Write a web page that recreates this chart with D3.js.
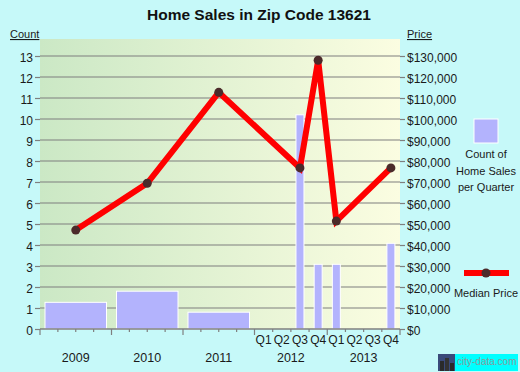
<!DOCTYPE html>
<html><head><meta charset="utf-8">
<script src="https://cdn.jsdelivr.net/npm/d3@7"></script>
<style>html,body{margin:0;padding:0;background:#c6f9f9;}svg{display:block;}</style>
</head><body><div id="chart"></div>
<script>
// ---- data ----
const yearLabels = ["2009", "2010", "2011"];
const yearCounts = [1.27, 1.8, 0.8];
const yearPrices = [47100, 69400, 112700];
const quarterLabels = ["Q1", "Q2", "Q3", "Q4", "Q1", "Q2", "Q3", "Q4"];
const quarterYears = ["2012", "2012", "2012", "2012", "2013", "2013", "2013", "2013"];
const quarterCounts = [0, 0, 10.2, 3.08, 3.08, 0, 0, 4.08];
const quarterPrices = [null, null, 76700, 128000, 51400, null, null, 76700];
const countTicks = [0,1,2,3,4,5,6,7,8,9,10,11,12,13];
const priceTicks = [0,10000,20000,30000,40000,50000,60000,70000,80000,90000,100000,110000,120000,130000];
const quarterYearLabels = ["2012", "2013"];

const W = 520, H = 372;
const L = 40, R = 400, T = 39, B = 329;
const svg = d3.select("#chart").append("svg").attr("width", W).attr("height", H);

const defs = svg.append("defs");
const grad = defs.append("linearGradient").attr("id", "bg").attr("x1", 0).attr("x2", 1).attr("y1", 0).attr("y2", 0);
grad.append("stop").attr("offset", "0%").attr("stop-color", "#cbe8c5");
grad.append("stop").attr("offset", "100%").attr("stop-color", "#fbfde1");

// piecewise scale: years 0..3 occupy first part, quarters (in years) 3..5 the rest
const x = d3.scaleLinear().domain([0, 3, 5]).range([L, 254.5, R]);
const yC = d3.scaleLinear().domain([0, 13]).range([B, B - 13 * 21]);
const yP = d3.scaleLinear().domain([0, 130000]).range([B, B - 13 * 21]);

svg.append("rect").attr("x", L).attr("y", T).attr("width", R - L).attr("height", B - T).attr("fill", "url(#bg)");

// gridlines
svg.append("g").selectAll("line").data(countTicks.filter(d => d > 0)).join("line")
  .attr("x1", L).attr("x2", R).attr("y1", d => yC(d)).attr("y2", d => yC(d))
  .attr("stroke", "#7f7f7f").attr("stroke-width", 1.2);

// bars
const yearData = yearLabels.map((y, i) => ({i, count: yearCounts[i], price: yearPrices[i]}));
const qData = quarterLabels.map((q, i) => ({i, count: quarterCounts[i], price: quarterPrices[i]}));
const barFill = "#b3b3fd";
svg.append("g").selectAll("rect").data(yearData).join("rect")
  .attr("x", d => x(d.i) + 5).attr("width", d => x(d.i + 1) - x(d.i) - 10)
  .attr("y", d => yC(d.count)).attr("height", d => B - yC(d.count))
  .attr("fill", barFill).attr("stroke", "#fff").attr("stroke-width", 1);
svg.append("g").selectAll("rect").data(qData.filter(d => d.count > 0)).join("rect")
  .attr("x", d => x(3 + (d.i + 0.5) / 4) - 4).attr("width", 8)
  .attr("y", d => yC(d.count)).attr("height", d => B - yC(d.count))
  .attr("fill", barFill).attr("stroke", "#fff").attr("stroke-width", 1);

// line
const pts = yearData.map(d => ({x: x(d.i + 0.5), y: yP(d.price)}))
  .concat(qData.filter(d => d.price != null).map(d => ({x: x(3 + (d.i + 0.5) / 4), y: yP(d.price)})));
svg.append("path").datum(pts)
  .attr("d", d3.line().x(d => d.x).y(d => d.y))
  .attr("fill", "none").attr("stroke", "#ff0000").attr("stroke-width", 6).attr("stroke-linejoin", "miter");
svg.append("g").selectAll("circle").data(pts).join("circle")
  .attr("cx", d => d.x).attr("cy", d => d.y).attr("r", 4.5).attr("fill", "#4b2a2a");

// axes
const font = "'Liberation Sans', Arial, sans-serif";
const txtColor = "#1a1a1a";
const leftAxis = d3.axisLeft(yC).tickValues(countTicks).tickSize(5).tickPadding(2).tickFormat(d3.format("d"));
const gL = svg.append("g").attr("transform", `translate(${L},0)`).call(leftAxis);
const rightAxis = d3.axisRight(yP).tickValues(priceTicks).tickSize(5).tickPadding(2).tickFormat(d => "$" + d3.format(",")(d));
const gR = svg.append("g").attr("transform", `translate(${R},0)`).call(rightAxis);
[gL, gR].forEach(g => {
  g.select(".domain").remove();
  g.selectAll(".tick line").attr("stroke", "#7f7f7f").attr("stroke-width", 1.2);
  g.selectAll("text").attr("font-family", font).attr("font-size", 12).attr("fill", txtColor).attr("dy", "0.45em");
});

// bottom axis
const gB = svg.append("g");
gB.append("line").attr("x1", L).attr("x2", R).attr("y1", B).attr("y2", B).attr("stroke", "#7f7f7f").attr("stroke-width", 1.5);
const majorTicks = [0, 1, 2, 3, 4, 5];
const minorTicks = [];
for (let yi = 0; yi < 3; yi++) for (let q = 1; q < 4; q++) minorTicks.push(yi + q / 4);
for (let q = 1; q < 8; q++) if (q !== 4) minorTicks.push(3 + q / 4);
gB.selectAll("line.maj").data(majorTicks).join("line").attr("class", "maj")
  .attr("x1", d => x(d)).attr("x2", d => x(d)).attr("y1", B).attr("y2", B + 6).attr("stroke", "#7f7f7f").attr("stroke-width", 1.2);
gB.selectAll("line.min").data(minorTicks).join("line").attr("class", "min")
  .attr("x1", d => x(d)).attr("x2", d => x(d)).attr("y1", B).attr("y2", B + 3).attr("stroke", "#7f7f7f").attr("stroke-width", 1.2);
gB.selectAll("text.q").data(quarterLabels).join("text").attr("class", "q")
  .attr("x", (d, i) => x(3 + (i + 0.5) / 4)).attr("y", 344).attr("text-anchor", "middle")
  .attr("font-family", font).attr("font-size", 12).attr("fill", txtColor).text(d => d);
const yearTextData = yearLabels.map((d, i) => ({t: d, c: i + 0.5})).concat(quarterYearLabels.map((d, i) => ({t: d, c: 3 + i + 0.5})));
gB.selectAll("text.y").data(yearTextData).join("text").attr("class", "y")
  .attr("x", d => x(d.c)).attr("y", 362).attr("text-anchor", "middle")
  .attr("font-family", font).attr("font-size", 12.5).attr("fill", txtColor).text(d => d.t);

// title
svg.append("text").attr("x", 259).attr("y", 20).attr("text-anchor", "middle")
  .attr("font-family", font).attr("font-weight", "bold").attr("font-size", 15.5).attr("fill", "#111")
  .text("Home Sales in Zip Code 13621");

// axis titles
svg.append("text").attr("x", 10).attr("y", 38).attr("font-family", font).attr("font-size", 11).attr("fill", txtColor)
  .attr("text-decoration", "underline").text("Count");
svg.append("text").attr("x", 407).attr("y", 38).attr("font-family", font).attr("font-size", 11).attr("fill", txtColor)
  .attr("text-decoration", "underline").text("Price");

// legend
svg.append("rect").attr("x", 474).attr("y", 119).attr("width", 24).attr("height", 24).attr("fill", barFill).attr("stroke", "#fff").attr("stroke-width", 1);
["Count of", "Home Sales", "per Quarter"].forEach((t, i) => {
  svg.append("text").attr("x", 486).attr("y", 158 + i * 16.5).attr("text-anchor", "middle")
    .attr("font-family", font).attr("font-size", 11).attr("fill", txtColor).text(t);
});
svg.append("line").attr("x1", 464).attr("x2", 509).attr("y1", 273).attr("y2", 273).attr("stroke", "#ff0000").attr("stroke-width", 6);
svg.append("circle").attr("cx", 486).attr("cy", 273).attr("r", 4.5).attr("fill", "#4b2a2a");
svg.append("text").attr("x", 486).attr("y", 297).attr("text-anchor", "middle")
  .attr("font-family", font).attr("font-size", 11).attr("fill", txtColor).text("Median Price");

// watermark
const wm = svg.append("g");
wm.append("rect").attr("x", 438).attr("y", 354).attr("width", 17).attr("height", 17).attr("fill", "#3a4a7a");
wm.append("rect").attr("x", 440).attr("y", 361).attr("width", 4).attr("height", 10).attr("fill", "#2a2a2a");
wm.append("rect").attr("x", 445).attr("y", 358).attr("width", 4).attr("height", 13).attr("fill", "#333");
wm.append("rect").attr("x", 450).attr("y", 363).attr("width", 4).attr("height", 8).attr("fill", "#2a2a2a");
wm.append("rect").attr("x", 455).attr("y", 354).attr("width", 63).attr("height", 17).attr("fill", "#00ffff");
wm.append("text").attr("x", 457).attr("y", 365).attr("font-family", font).attr("font-size", 10)
  .attr("fill", "#8a9a9a").text("city-data.com");
</script></body></html>
